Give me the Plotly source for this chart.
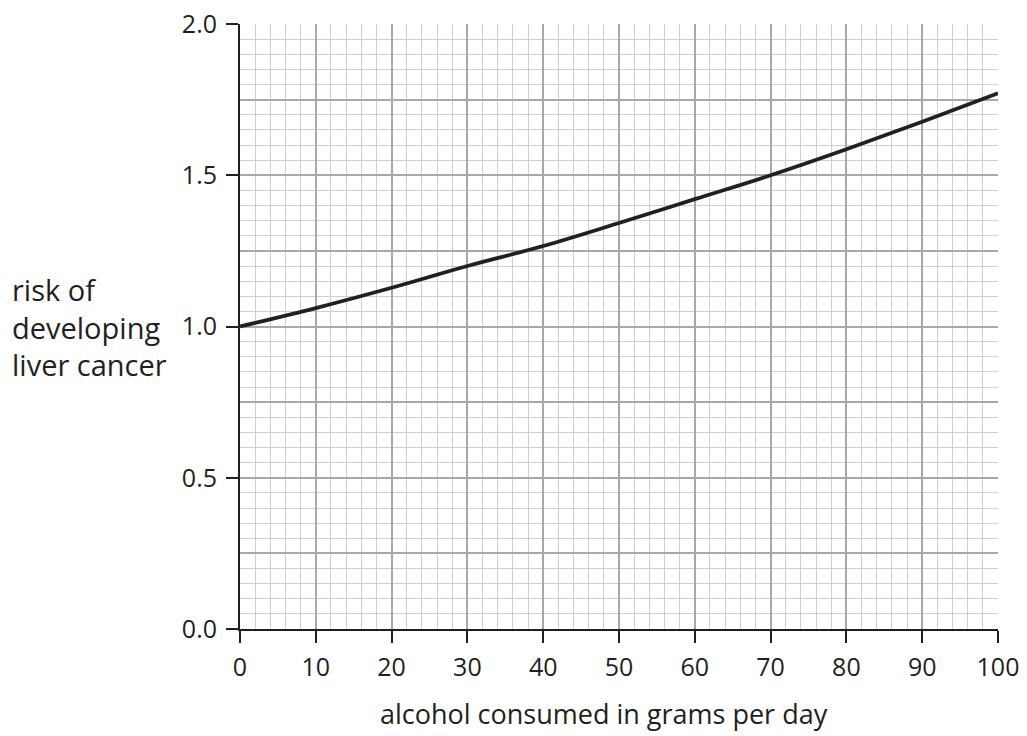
import plotly.graph_objects as go

alcohol_g_per_day = [0, 10, 20, 30, 40, 50, 60, 70, 80, 90, 100]
risk = [1.0, 1.061, 1.128, 1.20, 1.266, 1.342, 1.421, 1.50, 1.586, 1.677, 1.771]

x_ticks = [0, 10, 20, 30, 40, 50, 60, 70, 80, 90, 100]
y_ticks = [0.0, 0.5, 1.0, 1.5, 2.0]
y_tick_labels = ["0.0", "0.5", "1.0", "1.5", "2.0"]
y_grid_major = [0, 0.25, 0.5, 0.75, 1.0, 1.25, 1.5, 1.75, 2.0]

FONT = "Open Sans"
TXT = "#231f20"

fig = go.Figure()
fig.add_trace(go.Scatter(
    x=alcohol_g_per_day, y=risk, mode="lines",
    line=dict(color=TXT, width=3.8, shape="spline"),
    showlegend=False, hoverinfo="skip"))
# invisible trace for the labelled overlay axis
fig.add_trace(go.Scatter(x=[0], y=[0], yaxis="y2", mode="markers",
                         marker=dict(opacity=0), showlegend=False, hoverinfo="skip"))

PW, PH = 758, 605
fig.update_layout(
    width=1027, height=736,
    margin=dict(l=240, r=29, t=24, b=107),
    paper_bgcolor="white", plot_bgcolor="white",
    font=dict(family=FONT, size=25, color=TXT),
    xaxis=dict(
        range=[0, 100], tickvals=x_ticks, ticks="outside", ticklen=12, tickwidth=2,
        tickcolor=TXT, showline=True, linecolor=TXT, linewidth=2,
        showgrid=True, gridcolor="#a8a8a8", gridwidth=2, zeroline=False,
        minor=dict(dtick=2, showgrid=True, gridcolor="#cfcfcf", gridwidth=1),
        tickfont=dict(family=FONT, size=25, color=TXT), ticklabelstandoff=3,
        ticklabeloverflow="allow", automargin=False, fixedrange=True,
    ),
    yaxis=dict(
        range=[0, 2.0], tickvals=y_grid_major, showticklabels=False, ticks="",
        showline=False, showgrid=True, gridcolor="#a8a8a8", gridwidth=2, zeroline=False,
        minor=dict(dtick=0.05, showgrid=True, gridcolor="#cfcfcf", gridwidth=1),
        automargin=False, fixedrange=True,
    ),
    yaxis2=dict(
        range=[0, 2.0], overlaying="y", side="left", anchor="x",
        tickvals=y_ticks, ticktext=y_tick_labels, ticks="outside", ticklen=12,
        tickwidth=2, tickcolor=TXT, showline=True, linecolor=TXT, linewidth=2,
        tickfont=dict(family=FONT, size=25, color=TXT),
        showgrid=False, zeroline=False, ticklabelstandoff=4,
        ticklabeloverflow="allow", automargin=False, fixedrange=True,
    ),
)

fig.add_annotation(
    text="risk of<br>developing<br>liver cancer", xref="paper", yref="paper",
    x=-230/PW, xanchor="left", y=0.499, yanchor="middle",
    showarrow=False, align="left",
    font=dict(family=FONT, size=29, color=TXT),
)
fig.add_annotation(
    text="alcohol consumed in grams per day", xref="paper", yref="paper",
    x=(604-240)/PW, xanchor="center", y=-(713-629)/PH, yanchor="middle",
    showarrow=False, font=dict(family=FONT, size=27, color=TXT),
)

fig.write_html("out.html", config={"displayModeBar": False},
               post_script="document.body.style.margin='0';")
